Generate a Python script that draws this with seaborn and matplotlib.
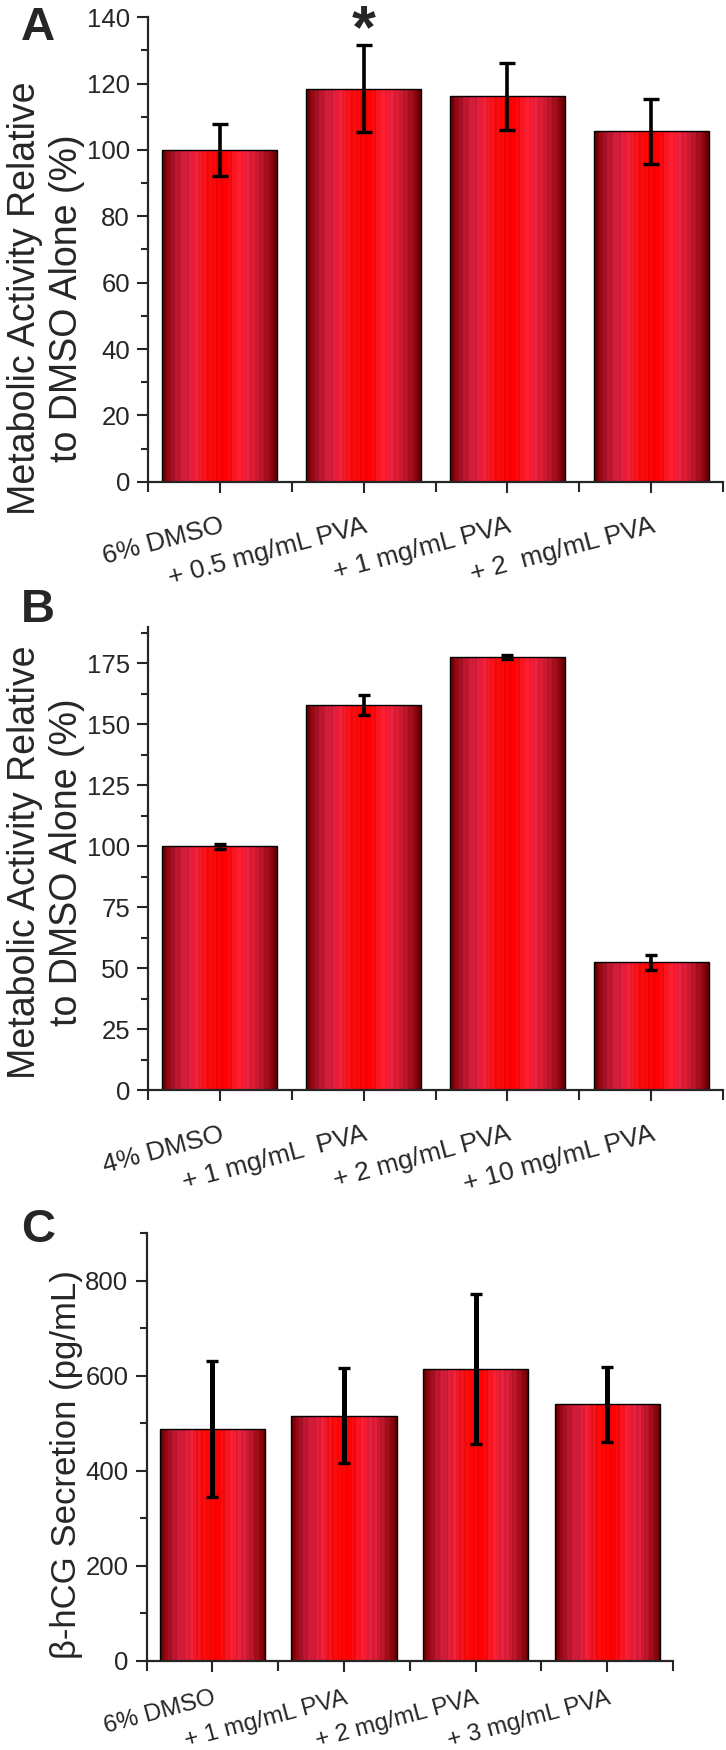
import matplotlib
matplotlib.use("Agg")
import matplotlib.pyplot as plt
import numpy as np
import seaborn as sns
from matplotlib.colors import LinearSegmentedColormap
from matplotlib.ticker import MultipleLocator, FixedLocator

# panel A: metabolic activity, 6% DMSO series
cats_a = ["6% DMSO", "+ 0.5 mg/mL PVA", "+ 1 mg/mL PVA", "+ 2  mg/mL PVA"]
vals_a = [100.0, 118.4, 116.1, 105.6]
errs_a = [7.9, 13.1, 10.2, 9.8]

# panel B: metabolic activity, 4% DMSO series
cats_b = ["4% DMSO", "+ 1 mg/mL  PVA", "+ 2 mg/mL PVA", "+ 10 mg/mL PVA"]
vals_b = [100.0, 157.8, 177.4, 52.3]
errs_b = [1.0, 4.2, 0.8, 3.0]

# panel C: beta-hCG secretion
cats_c = ["6% DMSO", "+ 1 mg/mL PVA", "+ 2 mg/mL PVA", "+ 3 mg/mL PVA"]
vals_c = [488, 516, 614, 540]
errs_c = [143, 100, 158, 79]

sns.set_style("ticks")
plt.rcParams["font.family"] = ["Liberation Sans", "DejaVu Sans"]
plt.rcParams["axes.linewidth"] = 1.6

# striped red fill like the Origin gradient
bar_cmap = LinearSegmentedColormap.from_list(
    "stripes",
    [(0.00, "#700000"), (0.04, "#8e0610"), (0.10, "#b8142c"), (0.20, "#d81e3e"),
     (0.30, "#f02038"), (0.40, "#ff0c0c"), (0.55, "#ff0000"), (0.66, "#ff1c2c"),
     (0.76, "#ea2240"), (0.86, "#c8182e"), (0.94, "#9a0a16"), (1.00, "#700000")])
shade = np.tile([1.0, 0.93, 1.0, 1.04, 0.96, 1.0, 0.9, 1.02], 8)
grad = bar_cmap(np.linspace(0, 1, shade.size))
grad[:, :3] = np.clip(grad[:, :3] * shade[:, None], 0, 1)
grad = grad[None, :, :]


def draw_panel(ax, cats, vals, errs, ymax, major, elw, cap, lab_size, lab_pad):
    sns.barplot(x=cats, y=vals, ax=ax, width=0.8, color="red",
                edgecolor="black", linewidth=1.0, errorbar=None)
    for p in ax.patches:
        x0, w, h = p.get_x(), p.get_width(), p.get_height()
        im = ax.imshow(grad, extent=(x0, x0 + w, 0, h), aspect="auto",
                       interpolation="nearest", zorder=p.get_zorder() - 0.1)
        im.set_clip_path(p)
        p.set_facecolor("none")
    ax.errorbar(np.arange(len(vals)), vals, yerr=errs, fmt="none", ecolor="black",
                elinewidth=elw, capsize=cap, capthick=2.4, zorder=5)
    ax.set_xlim(-0.5, 3.5)
    ax.set_ylim(0, ymax)
    ax.set_aspect("auto")
    ax.yaxis.set_major_locator(MultipleLocator(major))
    ax.yaxis.set_minor_locator(MultipleLocator(major / 2))
    ax.xaxis.set_minor_locator(FixedLocator([-0.5, 0.5, 1.5, 2.5, 3.5]))
    ax.set_xticks(range(len(cats)))
    ax.set_xticklabels(cats, rotation=15, ha="right", va="top",
                       rotation_mode="anchor", fontsize=lab_size)
    ax.tick_params(axis="y", labelsize=18.5, length=8, width=1.5, pad=5)
    ax.tick_params(axis="x", length=8, width=1.5, pad=lab_pad)
    ax.tick_params(which="minor", length=5, width=1.5)
    ax.tick_params(axis="x", which="minor", length=7)
    sns.despine(ax=ax)


fig = plt.figure(figsize=(7.26, 17.5), dpi=100)
ax_a = fig.add_axes([0.2039, 0.7247, 0.792, 0.2655])
ax_b = fig.add_axes([0.2039, 0.3771, 0.792, 0.2649])
ax_c = fig.add_axes([0.2018, 0.0509, 0.7252, 0.2443])

draw_panel(ax_a, cats_a, vals_a, errs_a, 140, 20, 2.6, 6, 19, 15)
draw_panel(ax_b, cats_b, vals_b, errs_b, 190, 25, 2.6, 4, 19, 15)
draw_panel(ax_c, cats_c, vals_c, errs_c, 900, 200, 3.6, 4, 17.5, 11)

ylab = "Metabolic Activity Relative\nto DMSO Alone (%)"
fig.text(0.063, 1 - 298 / 1750, ylab, rotation=90, ha="center", va="center",
         fontsize=27, linespacing=1.2)
fig.text(0.063, 1 - 862 / 1750, ylab, rotation=90, ha="center", va="center",
         fontsize=27, linespacing=1.2)
fig.text(0.091, 1 - 1465 / 1750, "β-hCG Secretion (pg/mL)", rotation=90,
         ha="center", va="center", fontsize=25)

# significance marker over the 0.5 mg/mL bar
ax_a.text(1, 131, "*", ha="center", va="baseline", fontsize=44,
          fontweight="bold", clip_on=False)

for lab, ypos in [("A", 0.9966), ("B", 1 - 588 / 1750), ("C", 1 - 1208 / 1750)]:
    fig.text(0.029, ypos, lab, ha="left", va="top", fontsize=34, fontweight="bold")

fig.savefig("out.png", dpi=100)
